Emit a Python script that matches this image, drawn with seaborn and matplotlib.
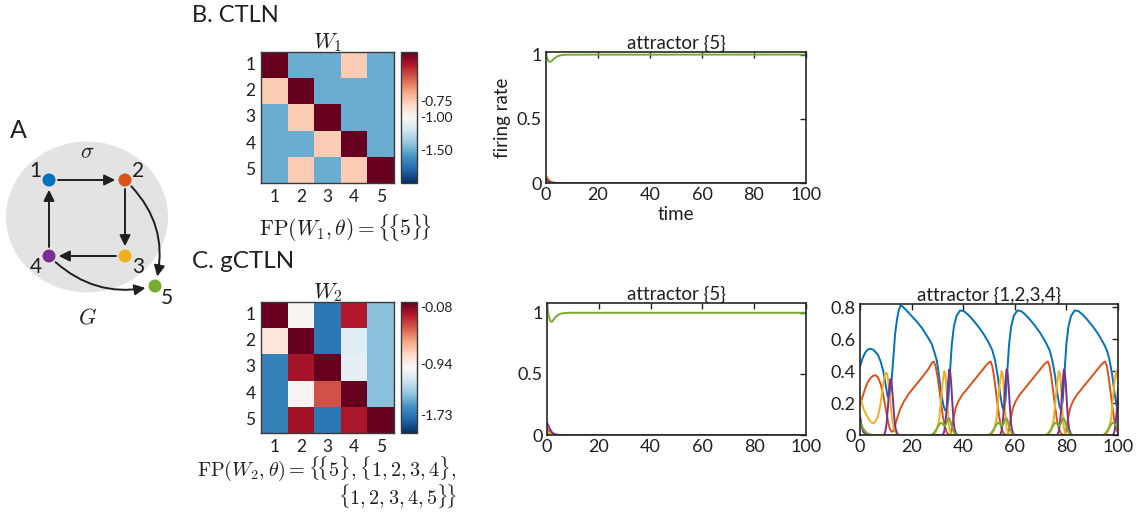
import numpy as np
import pandas as pd
import matplotlib
matplotlib.use("Agg")
import matplotlib.pyplot as plt
import seaborn as sns
from matplotlib.patches import Ellipse, Circle, FancyArrowPatch

# ---------------- data ----------------
nodes = ["1", "2", "3", "4", "5"]
node_colors = ["#0072BD", "#D95319", "#EDB120", "#7E2F8E", "#77AC30"]
edges = [(1, 2), (2, 3), (3, 4), (4, 1), (2, 5), (4, 5)]
edge_bend = {(2, 5): -0.3, (4, 5): 0.28}

W1 = [[0.0, -1.5, -1.5, -0.75, -1.5],
      [-0.75, 0.0, -1.5, -1.5, -1.5],
      [-1.5, -0.75, 0.0, -1.5, -1.5],
      [-1.5, -1.5, -0.75, 0.0, -1.5],
      [-1.5, -0.75, -1.5, -0.75, 0.0]]
W2 = [[0.0, -0.98, -1.72, -0.20, -1.42],
      [-0.88, 0.0, -1.72, -1.12, -1.42],
      [-1.68, -0.17, 0.0, -1.10, -1.42],
      [-1.68, -0.98, -0.36, 0.0, -1.42],
      [-1.68, -0.16, -1.72, -0.18, 0.0]]
W_range = (-2.0, 0.0)
W1_cbar_ticks = [-0.75, -1.0, -1.5]
W1_cbar_labels = ["-0.75", "-1.00", "-1.50"]
W2_cbar_ticks = [-0.08, -0.94, -1.73]
W2_cbar_labels = ["-0.08", "-0.94", "-1.73"]
matrix_ticklabels = ["1", "2", "3", "4", "5"]

time_ticks = [0, 20, 40, 60, 80, 100]
time_ticklabels = ["0", "20", "40", "60", "80", "100"]
rate_ticks = [0, 0.5, 1]
rate_ticklabels = ["0", "0.5", "1"]
rate_ticks2 = [0, 0.2, 0.4, 0.6, 0.8]
rate_ticklabels2 = ["0", "0.2", "0.4", "0.6", "0.8"]

# CTLN, attractor {5}
B_blue = [(0, 0.02), (0.5, 0.012), (1, 0.006), (1.5, 0.003), (2.5, 0.0), (100, 0.0)]
B_red = [(0, 0.03), (0.5, 0.02), (1, 0.012), (1.5, 0.007), (2, 0.004), (3, 0.001), (4, 0.0), (100, 0.0)]
B_yellow = [(0, 0.06), (0.5, 0.045), (1, 0.03), (1.5, 0.018), (2, 0.01), (3, 0.003), (4, 0.0), (100, 0.0)]
B_purple = [(0, 0.04), (0.5, 0.025), (1, 0.015), (1.5, 0.008), (2, 0.004), (3, 0.001), (4, 0.0), (100, 0.0)]
B_green = [(0, 1.0), (0.4, 0.975), (0.8, 0.955), (1.3, 0.943), (1.9, 0.945), (2.6, 0.958),
           (3.5, 0.975), (4.5, 0.988), (6, 0.996), (8, 0.999), (100, 1.0)]

# gCTLN, attractor {5}
C1_blue = [(0, 0.02), (0.5, 0.012), (1, 0.006), (2, 0.002), (3, 0.0), (100, 0.0)]
C1_red = [(0, 0.05), (0.5, 0.04), (1, 0.03), (1.5, 0.02), (2, 0.012), (2.7, 0.005), (3.5, 0.001), (5, 0.0), (100, 0.0)]
C1_yellow = [(0, 0.03), (0.5, 0.02), (1, 0.012), (2, 0.004), (3, 0.0), (100, 0.0)]
C1_purple = [(0, 0.10), (0.5, 0.08), (1, 0.055), (1.5, 0.035), (2, 0.02), (2.7, 0.01), (3.5, 0.003), (5, 0.0), (100, 0.0)]
C1_green = [(0, 1.07), (0.3, 1.02), (0.7, 0.97), (1.1, 0.94), (1.5, 0.927), (2, 0.928), (2.6, 0.945),
            (3.3, 0.965), (4.2, 0.982), (5.3, 0.993), (7, 0.998), (9, 1.0), (100, 1.0)]

# gCTLN, attractor {1,2,3,4}
C2_blue = [(0, 0.43), (1, 0.48), (2, 0.515), (3, 0.535), (4, 0.54), (5, 0.535), (6, 0.52), (7, 0.50),
           (8, 0.46), (9, 0.40), (10, 0.31), (10.6, 0.25), (11.1, 0.23), (11.6, 0.25), (12.3, 0.35),
           (13, 0.50), (13.6, 0.63), (14.3, 0.72), (15, 0.78), (15.7, 0.81), (16.5, 0.805), (18, 0.78),
           (20, 0.745), (22, 0.71), (24, 0.67), (26, 0.62), (27.8, 0.57), (28.8, 0.52), (29.7, 0.47),
           (30.4, 0.40), (31, 0.32), (31.7, 0.24), (32.4, 0.18), (33, 0.155), (33.6, 0.15), (34.2, 0.22),
           (34.9, 0.40), (35.6, 0.57), (36.4, 0.68), (37.4, 0.745), (38.8, 0.78), (40.3, 0.775),
           (41.8, 0.755), (43.8, 0.72), (45.8, 0.68), (47.8, 0.635), (49.8, 0.58), (51.3, 0.53),
           (52.3, 0.47), (53.3, 0.38), (54.3, 0.26), (55.1, 0.18), (55.8, 0.15), (56.4, 0.22),
           (57.1, 0.40), (57.8, 0.57), (58.6, 0.68), (59.6, 0.745), (61.0, 0.78), (62.5, 0.775),
           (64.0, 0.755), (66.0, 0.72), (68.0, 0.68), (70.0, 0.635), (72.0, 0.58), (73.5, 0.53),
           (74.5, 0.47), (75.5, 0.38), (76.5, 0.26), (77.3, 0.18), (78.0, 0.15), (78.6, 0.22),
           (79.3, 0.40), (80.0, 0.57), (80.8, 0.68), (81.8, 0.745), (83.2, 0.78), (84.7, 0.775),
           (86.2, 0.755), (88.2, 0.72), (90.2, 0.68), (92.2, 0.635), (94.2, 0.58), (95.7, 0.53),
           (96.7, 0.47), (97.7, 0.38), (98.7, 0.26), (99.5, 0.18), (100, 0.155)]
C2_red = [(0, 0.19), (1, 0.24), (2, 0.29), (3, 0.33), (4, 0.355), (5, 0.37), (6, 0.375), (7, 0.36),
          (8, 0.32), (9, 0.25), (10, 0.16), (10.8, 0.09), (11.5, 0.04), (12.3, 0.02), (13, 0.025),
          (13.6, 0.06), (14.3, 0.10), (15.5, 0.16), (17, 0.21), (19, 0.26), (21, 0.30), (23, 0.34),
          (25, 0.38), (26.8, 0.42), (28, 0.455), (28.6, 0.46), (29.3, 0.43), (30, 0.37), (30.7, 0.29),
          (31.4, 0.20), (32.1, 0.12), (32.8, 0.06), (33.5, 0.02), (34.3, 0.003), (35.1, 0.0),
          (35.6, 0.04), (36.3, 0.11), (37.1, 0.17), (38.1, 0.21), (39.6, 0.25), (41.6, 0.29),
          (43.6, 0.33), (45.6, 0.37), (47.6, 0.41), (49.1, 0.44), (50.1, 0.455), (50.6, 0.46),
          (51.3, 0.43), (52.0, 0.36), (52.7, 0.27), (53.4, 0.18), (54.1, 0.10), (54.8, 0.045),
          (55.6, 0.01), (56.6, 0.0), (57.3, 0.0), (57.8, 0.04), (58.5, 0.11), (59.3, 0.17),
          (60.3, 0.21), (61.8, 0.25), (63.8, 0.29), (65.8, 0.33), (67.8, 0.37), (69.8, 0.41),
          (71.3, 0.44), (72.3, 0.455), (72.8, 0.46), (73.5, 0.43), (74.2, 0.36), (74.9, 0.27),
          (75.6, 0.18), (76.3, 0.10), (77.0, 0.045), (77.8, 0.01), (78.8, 0.0), (79.5, 0.0),
          (80.0, 0.04), (80.7, 0.11), (81.5, 0.17), (82.5, 0.21), (84.0, 0.25), (86.0, 0.29),
          (88.0, 0.33), (90.0, 0.37), (92.0, 0.41), (93.5, 0.44), (94.5, 0.455), (95.0, 0.46),
          (95.7, 0.43), (96.4, 0.36), (97.1, 0.27), (97.8, 0.18), (98.5, 0.10), (99.2, 0.045),
          (100, 0.012)]
C2_yellow = [(0, 0.24), (0.7, 0.20), (1.5, 0.16), (2.5, 0.125), (3.5, 0.095), (4.5, 0.078), (5.2, 0.073),
             (6, 0.085), (7, 0.12), (7.8, 0.18), (8.5, 0.26), (9.2, 0.34), (9.8, 0.385), (10.3, 0.39),
             (10.8, 0.36), (11.3, 0.29), (11.8, 0.20), (12.4, 0.11), (13, 0.05), (13.8, 0.015),
             (14.8, 0.0), (28.7, 0.0), (29.7, 0.03), (30.7, 0.10), (31.4, 0.22), (32.1, 0.34),
             (32.7, 0.40), (33.1, 0.38), (33.5, 0.30), (33.9, 0.19), (34.3, 0.09), (34.7, 0.035),
             (35.3, 0.008), (35.9, 0.0), (50.9, 0.0), (51.9, 0.03), (52.9, 0.10), (53.6, 0.22),
             (54.3, 0.34), (54.9, 0.40), (55.3, 0.38), (55.7, 0.30), (56.1, 0.19), (56.5, 0.09),
             (56.9, 0.035), (57.5, 0.008), (58.1, 0.0), (73.1, 0.0), (74.1, 0.03), (75.1, 0.10),
             (75.8, 0.22), (76.5, 0.34), (77.1, 0.40), (77.5, 0.38), (77.9, 0.30), (78.3, 0.19),
             (78.7, 0.09), (79.1, 0.035), (79.7, 0.008), (80.3, 0.0), (95.3, 0.0), (96.3, 0.03),
             (97.3, 0.10), (98.0, 0.22), (98.7, 0.34), (99.3, 0.40), (99.7, 0.38), (100, 0.33)]
C2_purple = [(0, 0.12), (0.4, 0.08), (0.8, 0.045), (1.3, 0.02), (2, 0.005), (3, 0.0), (9.3, 0.0),
             (9.8, 0.02), (10.3, 0.07), (10.8, 0.17), (11.3, 0.29), (11.8, 0.35), (12.2, 0.33),
             (12.6, 0.26), (13.0, 0.17), (13.4, 0.09), (13.8, 0.04), (14.4, 0.01), (15.0, 0.0),
             (32.1, 0.0), (32.6, 0.02), (33.1, 0.07), (33.6, 0.17), (34.1, 0.32), (34.6, 0.41),
             (35.0, 0.39), (35.4, 0.31), (35.8, 0.2), (36.2, 0.1), (36.6, 0.04), (37.2, 0.01),
             (37.8, 0.0), (54.3, 0.0), (54.8, 0.02), (55.3, 0.07), (55.8, 0.17), (56.3, 0.32),
             (56.8, 0.41), (57.2, 0.39), (57.6, 0.31), (58.0, 0.2), (58.4, 0.1), (58.8, 0.04),
             (59.4, 0.01), (60.0, 0.0), (76.5, 0.0), (77.0, 0.02), (77.5, 0.07), (78.0, 0.17),
             (78.5, 0.32), (79.0, 0.41), (79.4, 0.39), (79.8, 0.31), (80.2, 0.2), (80.6, 0.1),
             (81.0, 0.04), (81.6, 0.01), (82.2, 0.0), (98.1, 0.0), (98.6, 0.02), (99.1, 0.07),
             (99.6, 0.17), (100, 0.29)]
C2_green = [(0, 0.085), (0.5, 0.065), (1, 0.048), (1.5, 0.034), (2, 0.023), (3, 0.009), (4, 0.003),
            (5, 0.0), (27.6, 0.0), (28.6, 0.012), (29.6, 0.035), (30.6, 0.062), (31.3, 0.078),
            (32.0, 0.07), (32.8, 0.055), (33.4, 0.07), (34.1, 0.1), (34.6, 0.105), (35.1, 0.085),
            (35.8, 0.04), (36.6, 0.012), (37.6, 0.0), (49.8, 0.0), (50.8, 0.012), (51.8, 0.035),
            (52.8, 0.062), (53.5, 0.078), (54.2, 0.07), (55.0, 0.055), (55.6, 0.07), (56.3, 0.1),
            (56.8, 0.105), (57.3, 0.085), (58.0, 0.04), (58.8, 0.012), (59.8, 0.0), (72.0, 0.0),
            (73.0, 0.012), (74.0, 0.035), (75.0, 0.062), (75.7, 0.078), (76.4, 0.07), (77.2, 0.055),
            (77.8, 0.07), (78.5, 0.1), (79.0, 0.105), (79.5, 0.085), (80.2, 0.04), (81.0, 0.012),
            (82.0, 0.0), (94.2, 0.0), (95.2, 0.012), (96.2, 0.035), (97.2, 0.062), (97.9, 0.078),
            (98.6, 0.07), (99.4, 0.055), (100, 0.065)]

# ---------------- style ----------------
sns.set_theme(style="white")
plt.rcParams["font.family"] = ["Lato", "DejaVu Sans"]
plt.rcParams["mathtext.fontset"] = "cm"
INK = "#1f1f1f"
plt.rcParams["text.color"] = INK
plt.rcParams["axes.labelcolor"] = INK
plt.rcParams["xtick.color"] = INK
plt.rcParams["ytick.color"] = INK

FW, FH = 1139, 518
fig = plt.figure(figsize=(FW / 100, FH / 100), dpi=100)
fig.patch.set_facecolor("white")


def px_axes(x, y, w, h):
    return fig.add_axes([x / FW, 1 - (y + h) / FH, w / FW, h / FH])


def ftext(x, y, s, **kw):
    fig.text(x / FW, 1 - y / FH, s, **kw)


# ---------------- panel A: graph ----------------
axg = px_axes(0, 100, 190, 240)
axg.set_xlim(0, 190)
axg.set_ylim(340, 100)
axg.axis("off")
pos = {1: (49, 180), 2: (125, 180), 3: (125, 256), 4: (49, 256), 5: (155, 286)}
label_pos = {1: (35, 171), 2: (138, 171), 3: (138, 267), 4: (36, 267), 5: (167, 298)}
axg.add_patch(Ellipse((87, 217), 162, 151, color="#e3e3e3", zorder=0, lw=0))
for (a, b) in edges:
    rad = edge_bend.get((a, b), 0.0)
    arr = FancyArrowPatch(pos[a], pos[b], connectionstyle=f"arc3,rad={rad}",
                          arrowstyle="-|>,head_length=0.65,head_width=0.32", mutation_scale=10,
                          shrinkA=6.5, shrinkB=7, lw=1.4, color=INK, zorder=2)
    axg.add_patch(arr)
for i, n in enumerate(nodes):
    k = i + 1
    axg.add_patch(Circle(pos[k], 6.5, color=node_colors[i], zorder=3, lw=0))
    axg.text(*label_pos[k], n, fontsize=15, ha="center", va="center", zorder=4)
axg.text(87, 152, r"$\sigma$", fontsize=16, ha="center", va="center")
axg.text(87, 318, r"$G$", fontsize=16, ha="center", va="center")
axg.text(10, 130, "A", fontsize=18, ha="left", va="center")

# ---------------- heatmaps ----------------
cmap = "RdBu_r"


def draw_matrix(M, rect, crect, title, cticks, clabels):
    ax = px_axes(*rect)
    cax = px_axes(*crect)
    sns.heatmap(pd.DataFrame(M, index=matrix_ticklabels, columns=matrix_ticklabels), ax=ax,
                cbar_ax=cax, cmap=cmap, vmin=W_range[0], vmax=W_range[1], linewidths=0)
    for s in ax.spines.values():
        s.set_visible(True)
        s.set_linewidth(1.0)
        s.set_color("#3a3a3a")
    ax.set_yticklabels(matrix_ticklabels, rotation=0)
    ax.set_xticklabels(matrix_ticklabels, rotation=0)
    ax.tick_params(direction="in", length=3, width=0.8, top=True, right=True,
                   labeltop=False, labelright=False, labelsize=12.5, pad=4)
    ax.set_title(title, fontsize=16, pad=3)
    cb = ax.collections[0].colorbar
    cb.set_ticks(cticks)
    cb.set_ticklabels(clabels)
    cb.outline.set_visible(True)
    cb.outline.set_linewidth(1.0)
    cb.outline.set_edgecolor("#3a3a3a")
    cax.tick_params(direction="in", length=2.5, width=0.8, labelsize=10, pad=2, right=True)
    return ax


draw_matrix(W1, (261, 52, 133, 131), (401, 52, 16, 131), r"$W_1$", W1_cbar_ticks, W1_cbar_labels)
draw_matrix(W2, (261, 302, 133, 131), (401, 302, 16, 131), r"$W_2$", W2_cbar_ticks, W2_cbar_labels)

ftext(192, 16, "B. CTLN", fontsize=17, ha="left", va="center")
ftext(192, 262, "C. gCTLN", fontsize=17.5, ha="left", va="center")
ftext(346, 228, r"$\mathrm{FP}(W_1,\theta) = \{\!\{5\}\!\}$", fontsize=15.5, ha="center", va="center")
ftext(457, 469, r"$\mathrm{FP}(W_2,\theta) = \{\!\{5\},\{1,2,3,4\},$", fontsize=14.5, ha="right", va="center")
ftext(457, 496, r"$\{1,2,3,4,5\}\!\}$", fontsize=14.5, ha="right", va="center")


# ---------------- time series ----------------
def to_df(series):
    rows = []
    for name, pts in zip(nodes, series):
        for t, r in pts:
            rows.append({"t": t, "r": r, "node": name})
    return pd.DataFrame(rows)


palette = dict(zip(nodes, node_colors))


def draw_ts(rect, series, ytop, yticks, ylabels, title):
    ax = px_axes(*rect)
    sns.lineplot(data=to_df(series), x="t", y="r", hue="node", hue_order=nodes, palette=palette,
                 estimator=None, legend=False, linewidth=1.4, ax=ax)
    ax.set_xlim(0, 100)
    ax.set_ylim(0, ytop)
    ax.set_xticks(time_ticks)
    ax.set_xticklabels(time_ticklabels)
    ax.set_yticks(yticks)
    ax.set_yticklabels(ylabels)
    ax.set_xlabel("")
    ax.set_ylabel("")
    ax.tick_params(direction="in", length=4, width=1.0, top=True, right=True, labelsize=13, pad=3)
    for s in ax.spines.values():
        s.set_visible(True)
        s.set_linewidth(1.2)
        s.set_color("#262626")
    ax.set_title(title, fontsize=13.5, pad=2)
    return ax


axB = draw_ts((546, 52, 260, 131), [B_blue, B_red, B_yellow, B_purple, B_green], 1.02,
              rate_ticks, rate_ticklabels, "attractor {5}")
axB.set_xlabel("time", fontsize=13.5, labelpad=2)
axB.set_ylabel("firing rate", fontsize=13.5, labelpad=4)

draw_ts((547, 303, 259, 132), [C1_blue, C1_red, C1_yellow, C1_purple, C1_green], 1.08,
        rate_ticks, rate_ticklabels, "attractor {5}")
draw_ts((860, 304, 258, 131), [C2_blue, C2_red, C2_yellow, C2_purple, C2_green], 0.82,
        rate_ticks2, rate_ticklabels2, "attractor {1,2,3,4}")

fig.savefig("out.png", dpi=100, facecolor="white")
